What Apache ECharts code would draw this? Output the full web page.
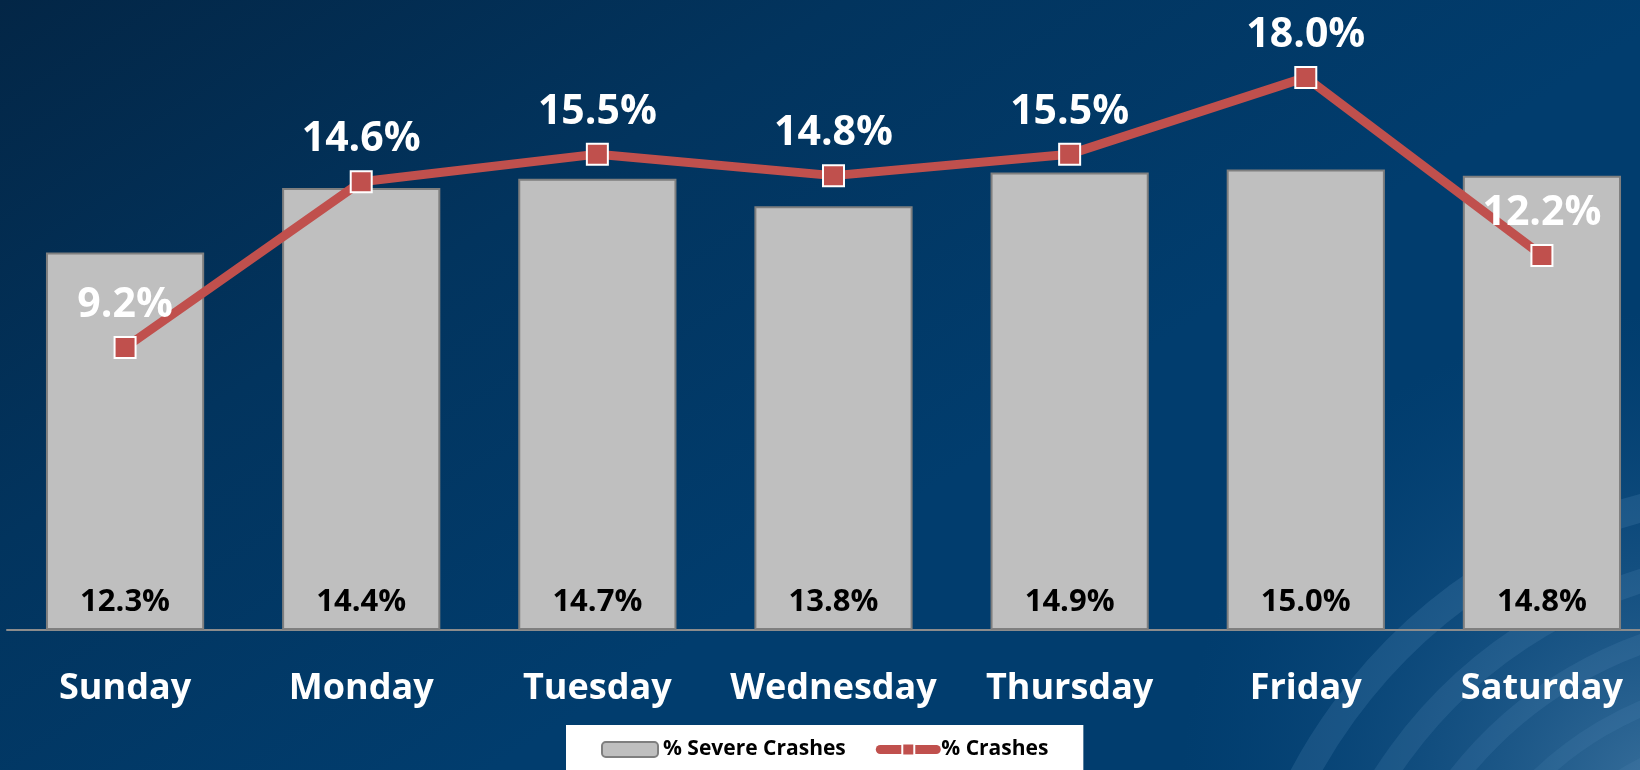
<!DOCTYPE html>
<html>
<head>
<meta charset="utf-8">
<script src="https://cdn.jsdelivr.net/npm/echarts@6/dist/echarts.min.js"></script>
<style>
  html, body { margin: 0; padding: 0; }
  #chart { width: 1640px; height: 770px; }
</style>
</head>
<body>
<div id="chart"></div>
<script>
// data
var days = ["Sunday", "Monday", "Tuesday", "Wednesday", "Thursday", "Friday", "Saturday"];
var severeCrashes = [12.3, 14.4, 14.7, 13.8, 14.9, 15.0, 14.8];
var allCrashes = [9.2, 14.6, 15.5, 14.8, 15.5, 18.0, 12.2];

var font = "'Open Sans', 'Noto Sans', sans-serif";
var red = "#C0504D";

var chart = echarts.init(document.getElementById("chart"));

// faint rings in the lower right corner of the slide background
var rings = [];
[300, 350, 410, 470, 540].forEach(function (r, i) {
  rings.push({
    type: "arc",
    silent: true,
    shape: { cx: 1780, cy: 1030, r: r, startAngle: Math.PI * 0.95, endAngle: Math.PI * 1.6 },
    style: { stroke: "rgba(150,200,240," + (0.06 + i * 0.015) + ")", lineWidth: 12 + i * 4, fill: null }
  });
});

var option = {
  backgroundColor: {
    type: "linear", x: 0, y: 0, x2: 0.3, y2: 1,
    colorStops: [
      { offset: 0, color: "#032646" },
      { offset: 0.5, color: "#02345e" },
      { offset: 1, color: "#013d6e" }
    ]
  },
  graphic: [
    {
      type: "circle",
      silent: true,
      shape: { cx: 1660, cy: 790, r: 480 },
      style: {
        fill: {
          type: "radial", x: 0.5, y: 0.5, r: 0.5,
          colorStops: [
            { offset: 0, color: "rgba(110,160,200,0.5)" },
            { offset: 1, color: "rgba(20,90,150,0)" }
          ]
        }
      }
    }
  ].concat(rings),
  grid: { left: 7, top: 16, width: 1653, height: 614, outerBoundsMode: "none" },
  legend: {
    left: 566,
    top: 725,
    padding: [14, 35, 16, 35],
    backgroundColor: "#ffffff",
    itemWidth: 56,
    itemHeight: 15,
    itemGap: 30,
    textStyle: { fontFamily: font, fontWeight: "bold", fontSize: 21, color: "#000" },
    data: [
      "% Severe Crashes",
      { name: "% Crashes", lineStyle: { width: 9, cap: "round" } }
    ]
  },
  xAxis: {
    type: "category",
    data: days,
    axisTick: { show: false },
    axisLine: { lineStyle: { color: "#8c8c8c", width: 2 } },
    axisLabel: {
      interval: 0,
      color: "#ffffff",
      fontFamily: font,
      fontWeight: "bold",
      fontSize: 36,
      margin: 41
    }
  },
  yAxis: {
    type: "value",
    min: 0,
    max: 20,
    show: false,
    splitLine: { show: false }
  },
  series: [
    {
      name: "% Severe Crashes",
      type: "bar",
      data: severeCrashes,
      barWidth: "67%",
      itemStyle: { color: "#BFBFBF", borderColor: "#7F7F7F", borderWidth: 2 },
      label: {
        show: true,
        position: "insideBottom",
        distance: 12,
        formatter: function (p) { return p.value.toFixed(1) + "%"; },
        color: "#000",
        fontFamily: font,
        fontWeight: "bold",
        fontSize: 31
      },
      z: 2
    },
    {
      name: "% Crashes",
      type: "line",
      data: allCrashes,
      symbol: "rect",
      symbolSize: 21,
      lineStyle: { color: red, width: 9 },
      itemStyle: { color: red, borderColor: "#ffffff", borderWidth: 2 },
      label: {
        show: true,
        position: "top",
        distance: 10,
        formatter: function (p) { return p.value.toFixed(1) + "%"; },
        color: "#ffffff",
        fontFamily: font,
        fontWeight: "bold",
        fontSize: 41
      },
      z: 3
    }
  ]
};

chart.setOption(option);
</script>
</body>
</html>
